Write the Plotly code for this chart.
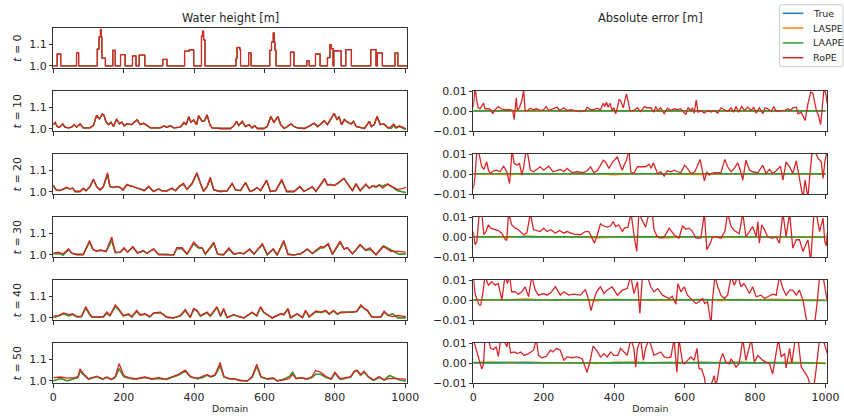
import plotly.graph_objects as go

# ---------------------------------------------------------------- data ----
MODELS = ["True", "LASPE", "LAAPE", "RoPE"]
COLORS = {"True": "#1f77b4", "LASPE": "#ff7f0e", "LAAPE": "#2ca02c", "RoPE": "#d62728"}
TIMES = [0, 10, 20, 30, 40, 50]
X_TICKS = [0, 200, 400, 600, 800, 1000]

# t = 0: piecewise-constant initial water column (breakpoint, level after it)
H0_X = [0, 11, 21, 66, 72, 125, 130, 134, 136, 138, 148, 169, 176, 191, 204, 225, 235,
        244, 260, 311, 323, 373, 386, 399, 421, 424, 427, 431, 519, 522, 530, 532, 555,
        562, 615, 620, 625, 628, 630, 633, 674, 684, 720, 727, 745, 758, 779, 786, 790,
        795, 797, 818, 831, 847, 902, 917, 921, 935, 971, 979, 1005]
H0_Y = [1.0, 1.055, 1.0, 1.06, 1.0, 1.078, 1.134, 1.168, 1.134, 1.036, 1.0, 1.072, 1.0,
        1.052, 1.0, 1.046, 1.0, 1.05, 1.0, 1.03, 1.0, 1.068, 1.074, 1.0, 1.137, 1.16,
        1.12, 1.0, 1.035, 1.085, 1.075, 1.0, 1.06, 1.0, 1.072, 1.11, 1.152, 1.11, 1.072,
        1.0, 1.063, 1.0, 1.023, 1.0, 1.055, 1.0, 1.038, 1.098, 1.08, 1.0, 1.07, 1.0,
        1.075, 1.0, 1.075, 1.0, 1.06, 1.0, 1.06, 1.0, 1.0]

# t = 10
X10 = [0, 5, 11, 17, 27, 33, 43, 52, 59, 66, 76, 85, 104, 114, 123, 131, 139, 144, 150,
       157, 164, 171, 180, 188, 195, 201, 209, 223, 238, 247, 257, 266, 276, 304, 314,
       323, 333, 342, 361, 371, 378, 385, 391, 399, 407, 413, 423, 429, 437, 445, 451,
       475, 504, 513, 521, 527, 537, 546, 556, 565, 572, 580, 598, 608, 618, 627, 638,
       646, 656, 665, 675, 684, 694, 713, 722, 741, 751, 760, 770, 779, 789, 798, 806,
       812, 819, 827, 836, 846, 853, 860, 869, 884, 893, 898, 904, 912, 920, 929, 939,
       945, 952, 960, 967, 974, 983, 993, 1002]
ROPE10 = [1.020, 1.031, 1.011, 1.008, 1.023, 1.008, 1.005, 1.008, 1.020, 1.008,
          1.023, 1.005, 1.005, 1.015, 1.062, 1.046, 1.069, 1.062, 1.031, 1.020,
          1.031, 1.011, 1.046, 1.023, 1.031, 1.014, 1.023, 1.020, 1.042, 1.020,
          1.026, 1.014, 1.005, 1.005, 1.014, 1.008, 1.015, 1.005, 1.008, 1.031,
          1.023, 1.058, 1.031, 1.042, 1.020, 1.062, 1.035, 1.038, 1.066, 1.020,
          1.005, 1.002, 1.002, 1.015, 1.035, 1.015, 1.035, 1.011, 1.020, 1.005,
          1.015, 1.002, 1.002, 1.011, 1.057, 1.031, 1.057, 1.020, 1.002, 1.011,
          1.023, 1.011, 1.005, 1.002, 1.008, 1.026, 1.011, 1.023, 1.038, 1.020,
          1.046, 1.072, 1.042, 1.057, 1.020, 1.043, 1.031, 1.023, 1.035, 1.011,
          1.008, 1.002, 1.023, 1.035, 1.011, 1.020, 1.057, 1.020, 1.023, 1.014,
          1.005, 1.011, 1.023, 1.008, 1.011, 1.008, 1.000]
TRUE10 = [1.020, 1.029, 1.011, 1.008, 1.023, 1.008, 1.005, 1.008, 1.020, 1.008,
          1.023, 1.005, 1.005, 1.015, 1.062, 1.046, 1.069, 1.062, 1.031, 1.020,
          1.031, 1.011, 1.046, 1.023, 1.031, 1.014, 1.023, 1.020, 1.042, 1.020,
          1.026, 1.014, 1.005, 1.005, 1.014, 1.008, 1.015, 1.005, 1.008, 1.026,
          1.020, 1.056, 1.031, 1.040, 1.020, 1.060, 1.035, 1.036, 1.062, 1.020,
          1.005, 1.002, 1.002, 1.015, 1.035, 1.015, 1.035, 1.011, 1.020, 1.005,
          1.015, 1.002, 1.002, 1.011, 1.057, 1.031, 1.057, 1.020, 1.002, 1.011,
          1.023, 1.011, 1.005, 1.002, 1.008, 1.026, 1.011, 1.023, 1.038, 1.020,
          1.046, 1.072, 1.042, 1.057, 1.020, 1.043, 1.031, 1.023, 1.035, 1.011,
          1.008, 1.002, 1.023, 1.035, 1.011, 1.020, 1.057, 1.020, 1.023, 1.012,
          1.003, 1.003, 1.015, 1.004, 1.014, 1.004, 0.998]

# t = 20
X20 = [0, 8, 17, 28, 38, 47, 55, 62, 76, 85, 93, 104, 114, 123, 133, 142, 154, 161, 171,
       180, 190, 198, 209, 218, 228, 237, 247, 258, 271, 280, 285, 299, 309, 323, 337,
       347, 359, 370, 380, 394, 408, 418, 427, 437, 446, 456, 475, 494, 508, 518, 532,
       546, 559, 570, 579, 589, 606, 617, 632, 649, 663, 684, 701, 712, 736, 746, 758,
       771, 779, 788, 798, 809, 826, 841, 850, 860, 872, 888, 898, 907, 917, 926, 936,
       950, 964, 978, 993, 1002]
ROPE20 = [1.025, 1.009, 1.006, 1.012, 1.022, 1.014, 1.017, 1.002, 1.002, 1.017,
          1.006, 1.025, 1.060, 1.025, 1.009, 1.025, 1.089, 1.025, 1.020, 1.025,
          1.020, 1.009, 1.035, 1.028, 1.025, 1.017, 1.014, 1.006, 1.025, 1.009,
          1.002, 1.014, 1.005, 1.005, 1.017, 1.006, 1.028, 1.040, 1.012, 1.040,
          1.089, 1.040, 1.002, 1.025, 1.068, 1.009, 1.002, 1.005, 1.040, 1.009,
          1.006, 1.043, 1.002, 1.009, 1.020, 1.006, 1.055, 1.002, 1.006, 1.058,
          1.002, 1.002, 1.025, 1.002, 1.025, 1.002, 1.032, 1.062, 1.032, 1.035,
          1.029, 1.043, 1.062, 1.025, 1.006, 1.037, 1.006, 1.037, 1.017, 1.028,
          1.025, 1.032, 1.017, 1.035, 1.022, 1.012, 1.015, 1.022]
TRUE20 = [1.032, 1.010, 1.006, 1.012, 1.020, 1.014, 1.017, 1.002, 1.002, 1.015,
          1.006, 1.023, 1.056, 1.025, 1.009, 1.022, 1.080, 1.025, 1.020, 1.025,
          1.020, 1.009, 1.033, 1.028, 1.025, 1.017, 1.014, 1.006, 1.025, 1.009,
          1.002, 1.014, 1.005, 1.005, 1.017, 1.006, 1.026, 1.035, 1.012, 1.036,
          1.085, 1.040, 1.002, 1.025, 1.062, 1.009, 1.002, 1.005, 1.038, 1.009,
          1.006, 1.043, 1.002, 1.009, 1.020, 1.006, 1.052, 1.002, 1.006, 1.052,
          1.002, 1.002, 1.025, 1.002, 1.023, 1.002, 1.030, 1.058, 1.032, 1.035,
          1.029, 1.040, 1.062, 1.025, 1.006, 1.037, 1.006, 1.033, 1.017, 1.028,
          1.022, 1.032, 1.027, 1.037, 1.020, 1.006, 1.000, 0.997]

# t = 30
X30 = [0, 14, 28, 43, 52, 66, 85, 103, 112, 123, 133, 142, 150, 166, 176, 190, 201, 211,
       226, 239, 256, 266, 285, 299, 323, 342, 351, 366, 380, 399, 413, 423, 432, 456,
       467, 484, 499, 513, 530, 541, 558, 570, 594, 608, 625, 636, 655, 667, 684, 703,
       722, 736, 760, 769, 781, 793, 815, 826, 836, 850, 872, 888, 900, 917, 938, 959,
       983, 1002]
ROPE30 = [1.008, 1.013, 1.005, 1.028, 1.008, 1.002, 1.002, 1.067, 1.028, 1.017,
          1.023, 1.020, 1.017, 1.083, 1.013, 1.013, 1.033, 1.013, 1.039, 1.009,
          1.020, 1.008, 1.028, 1.002, 1.002, 1.000, 1.033, 1.033, 1.005, 1.059,
          1.036, 1.033, 1.005, 1.059, 1.005, 1.002, 1.033, 1.005, 1.009, 1.005,
          1.028, 1.005, 1.052, 1.002, 1.028, 1.000, 1.067, 1.000, 1.000, 1.005,
          1.028, 1.008, 1.039, 1.036, 1.052, 1.005, 1.064, 1.028, 1.033, 1.005,
          1.048, 1.023, 1.033, 1.000, 1.039, 1.017, 1.016, 1.013]
TRUE30 = [1.006, 1.006, 1.000, 1.024, 1.008, 1.002, 1.002, 1.060, 1.026, 1.017,
          1.021, 1.020, 1.015, 1.067, 1.011, 1.012, 1.030, 1.013, 1.036, 1.009,
          1.018, 1.008, 1.027, 1.002, 1.002, 1.000, 1.030, 1.028, 1.003, 1.052,
          1.031, 1.031, 1.003, 1.052, 1.002, 1.000, 1.027, 1.003, 1.009, 1.005,
          1.025, 1.004, 1.048, 1.000, 1.026, 1.000, 1.060, 1.004, 1.000, 1.005,
          1.026, 1.006, 1.033, 1.034, 1.050, 1.002, 1.058, 1.027, 1.033, 1.005,
          1.046, 1.020, 1.026, 1.002, 1.042, 1.022, 1.003, 1.005]

# t = 40
X40 = [0, 14, 30, 43, 55, 68, 80, 92, 103, 109, 123, 142, 152, 161, 176, 185, 199, 214,
       223, 237, 247, 261, 274, 285, 304, 323, 342, 361, 375, 389, 399, 408, 418, 437,
       446, 465, 475, 484, 494, 513, 522, 541, 565, 578, 589, 598, 622, 646, 655, 667,
       674, 693, 708, 717, 727, 746, 760, 774, 784, 796, 807, 817, 836, 850, 862, 874,
       883, 893, 904, 917, 931, 940, 952, 964, 978, 1002]
ROPE40 = [1.008, 1.011, 1.023, 1.015, 1.019, 1.006, 1.008, 1.052, 1.020, 1.006,
          1.003, 1.006, 1.027, 1.011, 1.060, 1.044, 1.011, 1.019, 1.006, 1.035,
          1.015, 1.019, 1.006, 1.023, 1.027, 1.003, 1.000, 1.011, 1.039, 1.003,
          1.044, 1.035, 1.011, 1.027, 1.011, 1.052, 1.011, 1.044, 1.003, 1.016,
          1.010, 1.000, 1.027, 1.011, 1.052, 1.027, 1.000, 1.019, 1.015, 1.044,
          1.003, 1.019, 1.003, 1.035, 1.006, 1.032, 1.027, 1.035, 1.019, 1.035,
          1.019, 1.027, 1.027, 1.027, 1.031, 1.060, 1.044, 1.035, 1.006, 1.003,
          1.006, 1.032, 1.011, 1.006, 1.011, 1.006]
TRUE40 = [1.002, 1.008, 1.020, 1.010, 1.016, 1.004, 1.006, 1.046, 1.015, 1.004,
          1.003, 1.004, 1.022, 1.011, 1.052, 1.040, 1.009, 1.016, 1.004, 1.030,
          1.012, 1.017, 1.004, 1.021, 1.025, 1.003, 1.000, 1.009, 1.034, 1.002,
          1.040, 1.033, 1.008, 1.024, 1.008, 1.048, 1.008, 1.040, 1.001, 1.014,
          1.008, 1.000, 1.024, 1.009, 1.048, 1.025, 1.000, 1.018, 1.015, 1.040,
          1.000, 1.018, 1.001, 1.032, 1.004, 1.028, 1.025, 1.031, 1.017, 1.032,
          1.017, 1.025, 1.026, 1.026, 1.029, 1.055, 1.042, 1.032, 1.006, 1.003,
          1.005, 1.027, 1.011, 1.019, 1.000, 1.000]

# t = 50
X50 = [0, 20, 40, 60, 70, 76, 85, 100, 123, 140, 152, 165, 176, 187, 200, 215, 235, 260,
       280, 300, 320, 340, 355, 375, 390, 410, 425, 437, 448, 460, 474, 485, 500, 515,
       530, 551, 565, 578, 590, 608, 625, 636, 655, 670, 680, 690, 703, 722, 735, 745,
       760, 775, 790, 800, 815, 830, 845, 855, 863, 873, 883, 895, 910, 926, 940, 955,
       970, 985, 1002]
ROPE50 = [1.015, 1.018, 1.013, 1.015, 1.020, 1.055, 1.035, 1.010, 1.022, 1.010,
          1.018, 1.008, 1.020, 1.080, 1.025, 1.015, 1.010, 1.018, 1.010, 1.015,
          1.008, 1.020, 1.030, 1.050, 1.020, 1.012, 1.020, 1.030, 1.020, 1.030,
          1.085, 1.020, 1.012, 1.010, 1.003, 1.000, 1.020, 1.077, 1.020, 1.010,
          1.015, 1.000, 1.005, 1.010, 1.030, 1.010, 1.015, 1.010, 1.020, 1.048,
          1.040, 1.020, 1.010, 1.040, 1.010, 1.015, 1.020, 1.045, 1.050, 1.030,
          1.045, 1.020, 1.005, 1.020, 1.005, 1.012, 1.010, 1.008, 1.008]
TRUE50 = [1.000, 1.012, 1.000, 1.010, 1.016, 1.045, 1.030, 1.008, 1.020, 1.008,
          1.016, 1.006, 1.016, 1.056, 1.020, 1.012, 1.008, 1.016, 1.008, 1.012,
          1.006, 1.016, 1.026, 1.045, 1.018, 1.010, 1.016, 1.026, 1.018, 1.026,
          1.070, 1.018, 1.010, 1.008, 1.002, 1.000, 1.016, 1.068, 1.018, 1.008,
          1.012, 1.000, 1.008, 1.020, 1.040, 1.012, 1.014, 1.008, 1.016, 1.030,
          1.030, 1.016, 1.008, 1.036, 1.008, 1.012, 1.018, 1.042, 1.048, 1.026,
          1.042, 1.018, 1.002, 1.016, 1.004, 1.025, 1.014, 1.004, 1.000]

# absolute error of RoPE [mm]
EX10 = [0, 5, 10, 14, 19, 24, 29, 33, 43, 49, 55, 62, 71, 78, 90, 105, 112, 116, 122,
        125, 131, 138, 143, 147, 154, 162, 171, 181, 190, 200, 207, 214, 223, 238, 245,
        257, 266, 276, 290, 304, 318, 323, 333, 342, 352, 361, 369, 373, 378, 383, 388,
        394, 399, 404, 409, 414, 418, 426, 430, 435, 439, 445, 456, 466, 475, 486, 494,
        504, 513, 518, 524, 532, 542, 551, 561, 570, 580, 587, 594, 603, 610, 618, 622,
        627, 633, 638, 646, 656, 665, 675, 684, 694, 703, 713, 722, 732, 739, 746, 753,
        762, 770, 779, 789, 796, 803, 812, 822, 828, 836, 846, 853, 860, 869, 884, 893,
        901, 907, 917, 922, 931, 942, 950, 958, 964, 974, 980, 986, 990, 995, 1000, 1005]
EROPE10 = [2.0, 12.0, 5.0, 1.7, 1.2, 2.3, 4.0, 1.2, 1.2, 0.8, -1.3, 0.7, 2.3, 1.2,
           0.7, 0.7, 0.3, -4.2, 6.7, 0.3, 1.7, 5.3, 10.5, 0.3, 0.3, 1.5, 0.7, 1.2,
           0.3, 0.8, 2.3, 0.3, 0.8, 2.0, 0.3, 1.7, 0.3, 0.7, 0.3, -0.2, 0.3, 2.0,
           0.7, 0.7, 1.5, 0.7, 4.0, 2.3, 4.5, 2.0, 4.0, 0.3, 1.7, -1.3, 1.7, 5.8,
           5.3, 1.7, 5.3, 8.7, 5.3, 0.3, 0.3, 1.7, -0.2, 2.3, 1.7, 1.7, -0.5, 2.3,
           0.3, 1.7, -1.3, 1.5, 0.3, 1.2, 0.7, 1.2, 0.3, -1.7, 1.7, 0.3, 1.7, -1.0,
           5.7, -0.5, 0.3, -1.0, 0.3, -0.5, 0.3, -1.0, 1.7, 0.7, -0.2, 1.7, -0.5,
           2.3, -0.5, 2.3, 0.3, 2.0, 0.3, 2.0, -1.0, 1.7, -1.3, 1.7, 1.2, -0.2, 2.3,
           -0.2, 0.3, 0.3, 1.2, 0.3, 1.7, 2.0, -1.3, -0.5, -4.7, 3.7, 9.5, 9.0, 0.3,
           -2.2, -6.7, 0.3, 10.5, 9.5, 3.7]

EX20 = [0, 5, 10, 17, 24, 30, 38, 43, 48, 57, 67, 76, 86, 95, 103, 106, 110, 116, 124,
        131, 138, 143, 150, 155, 162, 171, 181, 190, 200, 214, 226, 238, 247, 257, 266,
        280, 295, 314, 323, 333, 342, 352, 361, 369, 375, 385, 394, 409, 416, 423, 428,
        435, 442, 447, 456, 466, 489, 499, 505, 511, 523, 532, 542, 551, 561, 570, 580,
        589, 600, 608, 618, 629, 644, 651, 656, 663, 670, 676, 684, 703, 714, 722, 732,
        741, 751, 760, 765, 774, 784, 793, 808, 822, 831, 841, 850, 860, 872, 879, 888,
        898, 907, 917, 929, 936, 942, 950, 955, 961, 969, 979, 988, 993, 998, 1005]
EROPE20 = [-7.2, -1.3, 12.0, 9.6, 3.7, 2.4, 6.2, 2.0, 0.3, 1.7, 2.0, 1.2, 4.0, 1.2,
           -4.7, 3.7, 12.0, 5.4, 4.5, 5.4, -0.5, 3.7, 12.0, 9.6, 2.0, 1.2, 2.4, 3.7,
           2.0, 4.0, 1.2, 2.0, 2.4, 1.2, 2.9, 0.8, 1.2, 0.8, 1.7, 3.7, 0.8, 1.7, 4.5,
           7.0, 6.2, 2.9, 5.7, 8.7, 5.0, 2.0, 4.5, 7.0, 12.0, 1.2, 0.3, 3.7, 3.7, 5.0,
           2.9, 5.7, 0.3, 1.2, -1.0, 1.7, 1.2, 2.0, 1.2, 0.7, 4.5, 2.9, 0.3, 1.2, 7.4,
           2.0, -3.4, 1.2, -0.5, 0.3, 0.8, 0.7, 7.4, 3.7, 1.2, 2.9, 5.7, 0.7, -3.0,
           7.0, 2.0, 1.2, 0.7, 4.5, 0.3, 2.4, 0.3, 1.7, 4.0, -3.0, 6.2, 3.7, 0.3, 6.7,
           -3.9, -12.0, -3.0, -12.0, -1.3, 9.6, 12.0, 7.9, 6.2, -2.2, 6.2, 12.0]

EX30 = [0, 5, 10, 17, 24, 30, 36, 43, 49, 59, 71, 81, 90, 95, 100, 109, 119, 128, 143,
        152, 162, 171, 181, 190, 200, 209, 220, 233, 245, 257, 266, 285, 304, 318, 328,
        334, 344, 352, 361, 369, 380, 390, 397, 404, 413, 423, 429, 439, 448, 456, 464,
        470, 480, 489, 499, 508, 513, 523, 532, 542, 556, 570, 584, 594, 603, 613, 622,
        632, 646, 656, 663, 673, 679, 689, 703, 714, 722, 732, 741, 755, 765, 774, 784,
        793, 803, 808, 812, 819, 827, 836, 850, 860, 869, 879, 888, 898, 907, 917, 926,
        936, 950, 958, 967, 974, 983, 993, 998, 1002, 1005]
EROPE30 = [2.8, -3.8, -2.2, 12.0, 12.0, 1.2, 2.8, 6.2, 4.5, 4.0, 3.3, 2.0, -1.0, -1.7,
           12.0, 6.2, 4.5, 3.7, 1.2, 2.0, 12.0, 3.7, 3.3, 2.8, 4.5, 2.8, 3.7, 2.0, 3.3,
           2.0, 2.8, 1.5, 1.2, 2.8, 2.8, 0.3, -3.0, 1.2, 6.7, 5.7, 5.0, 5.7, 7.8, 5.3,
           6.2, 2.8, 4.5, 5.0, 12.0, 1.2, -7.2, 12.0, 8.7, 5.0, 12.0, 12.0, 3.7, 0.0,
           -0.5, 0.0, 4.5, 1.2, -0.5, 5.7, 4.0, 4.5, 2.8, -0.5, -0.5, 12.0, -6.3, -3.0,
           0.0, 0.3, -0.5, 2.8, 12.0, 5.3, 3.3, 1.7, 12.0, 0.3, 2.8, 5.3, 0.3, 7.8,
           -3.0, 6.2, 3.7, 0.0, -0.5, 0.0, -3.0, 12.0, 0.3, 12.0, -5.5, -1.3, -1.3,
           -7.2, -1.3, -12.0, 12.0, 12.0, 2.8, 9.5, -2.2, -4.3, 2.0]

EX40 = [0, 5, 11, 17, 21, 27, 33, 43, 52, 62, 71, 81, 90, 97, 103, 109, 119, 128, 138,
        147, 157, 166, 176, 185, 200, 209, 220, 233, 247, 257, 271, 285, 304, 318, 328,
        334, 342, 350, 361, 371, 380, 394, 409, 423, 437, 447, 456, 466, 473, 480, 494,
        504, 513, 524, 537, 546, 556, 565, 575, 581, 589, 599, 608, 622, 632, 641, 651,
        657, 665, 675, 679, 686, 694, 703, 713, 722, 732, 741, 751, 760, 768, 774, 784,
        793, 803, 817, 827, 836, 850, 860, 869, 879, 888, 898, 907, 917, 926, 936, 941,
        948, 960, 969, 977, 983, 993, 999, 1005]
EROPE40 = [12.0, 3.3, 0.0, -2.5, -2.5, 3.3, 12.0, 7.5, 9.2, 7.5, 8.3, 0.0, 12.0, 8.3,
           12.0, 4.2, 4.2, 3.0, 4.2, 6.7, 1.7, 12.0, 5.0, 2.5, 3.3, 2.5, 3.7, 6.7, 2.5,
           4.2, 2.5, 3.0, 2.5, 5.3, 0.0, -5.3, 0.0, 4.2, 6.7, 3.3, 5.0, 6.7, 2.5, 5.0,
           5.8, 12.0, 3.3, 9.2, -6.7, 12.0, 12.0, 6.7, 4.2, 5.8, 2.5, 1.7, 0.8, 2.0,
           -2.0, 8.3, 4.2, 6.7, 2.5, 0.0, -1.7, -0.8, 0.8, -1.7, -0.8, -12.0, 0.0,
           12.0, 6.7, 2.5, 0.8, 2.5, 12.0, 7.5, 12.0, 6.7, 8.3, 6.7, 3.3, 6.7, 1.7,
           2.5, 0.8, 1.7, 3.0, 2.5, 12.0, 5.8, 2.5, 5.0, 5.0, 2.5, 5.0, 0.0, -5.0,
           -12.0, -12.0, -12.0, 0.0, 12.0, 12.0, 5.8, -0.8]

EX50 = [0, 10, 17, 24, 29, 33, 43, 49, 57, 65, 71, 78, 86, 95, 100, 106, 116, 125, 135,
        144, 157, 171, 179, 185, 195, 207, 219, 226, 236, 247, 257, 266, 280, 295, 309,
        323, 333, 340, 350, 361, 371, 380, 390, 399, 410, 418, 428, 437, 447, 456, 461,
        466, 475, 483, 489, 499, 513, 524, 532, 542, 551, 561, 570, 578, 584, 594, 599,
        608, 618, 627, 635, 641, 648, 656, 660, 673, 684, 689, 701, 708, 717, 727, 732,
        746, 755, 765, 774, 789, 798, 808, 822, 831, 841, 850, 860, 866, 874, 884, 888,
        898, 904, 914, 922, 931, 941, 950, 958, 967, 974, 983, 993, 999, 1005]
EROPE50 = [12.0, 5.6, 0.5, -2.9, -0.3, 12.0, 12.0, 7.4, 6.8, 8.2, 3.4, 12.0, 12.0, 8.2,
           12.0, 5.1, 5.6, 4.8, 5.6, 3.9, 4.8, 6.5, 12.0, 3.9, 2.7, 3.4, 6.5, 5.6, 7.4,
           6.5, 1.4, 3.1, 2.7, 3.1, 2.2, -4.6, 2.2, 8.5, 6.5, 3.1, 4.8, 3.1, 5.6, 3.9,
           3.9, 7.4, 5.6, 3.9, 12.0, 7.4, -2.0, 7.4, 12.0, 1.4, 7.4, 12.0, 3.9, 4.8,
           5.6, 3.1, 2.7, 3.1, 12.0, -4.6, 12.0, 0.5, -0.3, 1.4, 3.1, 1.4, 7.4, -2.9,
           -2.9, -7.2, -12.0, -12.0, -6.3, -12.0, 1.4, 4.8, 0.5, -0.3, 2.2, -2.0, -0.3,
           12.0, 1.4, 12.0, 0.5, 3.9, 1.4, 0.5, -0.3, -5.5, 4.8, 12.0, 3.1, 4.8, -2.4,
           7.4, -0.3, 12.0, 12.0, -2.0, -4.6, -7.2, -12.0, -12.0, -2.0, 12.0, 12.0, 8.2,
           4.8]

# errors of the reference and of the two linear-attention models [mm]
EX_LIN = [0, 50, 100, 150, 200, 250, 300, 350, 400, 450, 500, 550, 600, 650, 700, 750,
          800, 850, 900, 950, 1000]
ETRUE = [0.0] * 21
ELASPE10 = [0.1, 0.2, 0.1, 0.0, 0.2, 0.1, 0.1, 0.2, 0.3, 0.1, 0.1, 0.2, 0.1, 0.0, 0.1,
            0.2, 0.1, 0.1, 0.1, 0.1, 0.1]
ELAAPE10 = [0.2, 0.3, 0.2, 0.2, 0.3, 0.2, 0.2, 0.3, 0.4, 0.2, 0.2, 0.3, 0.2, 0.2, 0.2,
            0.3, 0.2, 0.2, 0.2, 0.3, 0.2]
ELASPE20 = [0.2, 0.1, -0.2, 0.1, 0.2, 0.0, 0.1, 0.2, -0.4, 0.1, 0.2, 0.0, 0.1, -0.2,
            0.1, 0.2, 0.0, 0.1, 0.2, 0.0, 0.1]
ELAAPE20 = [0.3, 0.2, 0.3, 0.2, 0.3, 0.2, 0.3, 0.2, 0.2, 0.3, 0.2, 0.3, 0.2, 0.3, 0.2,
            0.3, 0.2, 0.3, 0.2, 0.3, 0.2]
ELASPE30 = [0.1, 0.2, -0.2, 0.6, 0.1, 0.0, 0.2, -0.3, 0.1, 0.4, 0.2, -0.3, 0.1, 0.2,
            -0.2, 0.1, 0.2, 0.0, 0.1, 0.2, 0.1]
ELAAPE30 = [0.2, 0.3, 0.1, 0.3, 0.2, 0.3, 0.2, 0.1, 0.3, 0.2, 0.2, 0.3, 0.1, 0.2, 0.3,
            0.2, 0.2, 0.1, 0.2, 0.1, 0.0]
ELASPE40 = [0.2, 0.0, 0.3, 0.6, 0.1, 0.0, 0.2, -0.3, 0.5, 0.1, 0.2, -0.2, 0.3, 0.5,
            -0.3, 0.4, 0.1, 0.5, 0.2, 0.1, 0.0]
ELAAPE40 = [0.2, 0.1, 0.3, 0.2, 0.1, 0.3, 0.2, 0.1, 0.2, 0.3, 0.2, 0.1, 0.2, 0.3, 0.1,
            0.2, 0.1, 0.0, 0.1, -0.1, -0.2]
ELASPE50 = [0.3, 0.6, 0.1, 0.5, 0.2, 0.0, 0.3, -0.2, 0.5, 0.6, 0.2, 0.4, 0.1, 0.5,
            0.3, 0.6, 0.2, 0.4, 0.5, 0.3, 0.2]
ELAAPE50 = [0.4, 0.2, 0.5, 0.3, 0.3, 0.1, 0.3, 0.2, 0.4, 0.3, 0.2, 0.4, 0.3, 0.2, 0.4,
            0.3, 0.2, 0.4, 0.0, 0.3, -0.2]

HEIGHTS = {
    10: (X10, TRUE10, ROPE10),
    20: (X20, TRUE20, ROPE20),
    30: (X30, TRUE30, ROPE30),
    40: (X40, TRUE40, ROPE40),
    50: (X50, TRUE50, ROPE50),
}
ERRORS = {
    10: (EX10, EROPE10, ELASPE10, ELAAPE10),
    20: (EX20, EROPE20, ELASPE20, ELAAPE20),
    30: (EX30, EROPE30, ELASPE30, ELAAPE30),
    40: (EX40, EROPE40, ELASPE40, ELAAPE40),
    50: (EX50, EROPE50, ELASPE50, ELAAPE50),
}

# -------------------------------------------------------------- layout ----
W, H = 844, 419
FONT = "DejaVu Sans"
TEXT = "#262626"
SPINE = "#333333"
LW = 1.3

LEFT_DOM = [53.3 / W, 407.0 / W]
RIGHT_DOM = [473.3 / W, 827.3 / W]


def px_x(v):
    return v / W


def px_y(v):
    return 1 - v / H


def row_domain(i):
    top = 28.0 + 63.0 * i
    return [px_y(top + 40.3), px_y(top)]


fig = go.Figure()
layout = dict(
    width=W, height=H,
    margin=dict(l=0, r=0, t=0, b=0, autoexpand=False),
    paper_bgcolor="white", plot_bgcolor="white",
    font=dict(family=FONT, size=11, color=TEXT),
    showlegend=False,
)


def axis_style():
    return dict(
        showline=True, linecolor=SPINE, linewidth=0.9, mirror=True,
        ticks="outside", ticklen=3.5, tickwidth=0.9, tickcolor=SPINE,
        showgrid=False, zeroline=False, automargin=False,
        tickfont=dict(size=11, family=FONT, color=TEXT),
    )


def add_axes(n, xdom, ydom, bottom):
    xa = axis_style()
    xa.update(domain=xdom, anchor=f"y{n}" if n > 1 else "y", range=[0, 1005],
              tickvals=X_TICKS, showticklabels=bottom)
    if bottom:
        xa["title"] = dict(text="Domain", font=dict(size=9.3, family=FONT, color=TEXT),
                           standoff=2)
    ya = axis_style()
    ya.update(domain=ydom, anchor=f"x{n}" if n > 1 else "x")
    key = "" if n == 1 else str(n)
    layout["xaxis" + key] = xa
    layout["yaxis" + key] = ya
    return ("x" if n == 1 else f"x{n}"), ("y" if n == 1 else f"y{n}")


axis_no = 0
for i, t in enumerate(TIMES):
    bottom = i == len(TIMES) - 1
    # water height panel
    axis_no += 1
    xr, yr = add_axes(axis_no, LEFT_DOM, row_domain(i), bottom)
    key = "" if axis_no == 1 else str(axis_no)
    layout["yaxis" + key].update(
        range=[0.989, 1.175], tickvals=[1.0, 1.1], ticktext=["1.0", "1.1"],
        title=dict(text=f"<i>t</i> = {t}", font=dict(size=11, family=FONT, color=TEXT),
                   standoff=5),
    )
    if t == 0:
        series = {m: (H0_X, H0_Y) for m in MODELS}
        shape = "hv"
    else:
        xs, ref, rope = HEIGHTS[t]
        series = {"True": (xs, ref), "LASPE": (xs, ref), "LAAPE": (xs, ref),
                  "RoPE": (xs, rope)}
        shape = "linear"
    for m in MODELS:
        xs, ys = series[m]
        # at t = 0 every model starts from the same state: keep the lower
        # lines a touch thinner so the top one covers them cleanly
        width = LW if (m == "RoPE" or t != 0) else 0.9
        fig.add_trace(go.Scatter(
            x=xs, y=ys, mode="lines", name=m, legendgroup=m,
            line=dict(color=COLORS[m], width=width, shape=shape),
            xaxis=xr, yaxis=yr, hoverinfo="skip",
        ))

    # absolute error panel
    if t == 0:
        continue
    axis_no += 1
    xr, yr = add_axes(axis_no, RIGHT_DOM, row_domain(i), bottom)
    key = str(axis_no)
    layout["yaxis" + key].update(
        range=[-0.0101, 0.0101], tickvals=[-0.01, 0.0, 0.01],
        ticktext=["\u22120.01", "0.00", "0.01"],
    )
    ex, erope, elaspe, elaape = ERRORS[t]
    err = {
        "True": (EX_LIN, ETRUE),
        "LASPE": (EX_LIN, elaspe),
        "LAAPE": (EX_LIN, elaape),
        "RoPE": (ex, erope),
    }
    for m in MODELS:
        xs, mm = err[m]
        fig.add_trace(go.Scatter(
            x=xs, y=[v / 1000.0 for v in mm], mode="lines", name=m, legendgroup=m,
            line=dict(color=COLORS[m], width=LW),
            xaxis=xr, yaxis=yr, hoverinfo="skip",
        ))

# column titles
annotations = [
    dict(text="Water height [m]", x=sum(LEFT_DOM) / 2, y=px_y(18.3),
         xref="paper", yref="paper", showarrow=False, xanchor="center", yanchor="middle",
         font=dict(size=11.4, family=FONT, color=TEXT)),
    dict(text="Absolute error [m]", x=sum(RIGHT_DOM) / 2, y=px_y(18.3),
         xref="paper", yref="paper", showarrow=False, xanchor="center", yanchor="middle",
         font=dict(size=11.4, family=FONT, color=TEXT)),
]

# legend box in the upper-right corner, one row per model
LEG_L, LEG_R, LEG_T, LEG_B, RAD = 779.5, 843.0, 4.7, 66.7, 2.5
rx, ry = RAD / W, RAD / H
l, r, tp, bt = px_x(LEG_L), px_x(LEG_R), px_y(LEG_T), px_y(LEG_B)
box_path = (f"M {l + rx},{tp} L {r - rx},{tp} Q {r},{tp} {r},{tp - ry} "
            f"L {r},{bt + ry} Q {r},{bt} {r - rx},{bt} L {l + rx},{bt} "
            f"Q {l},{bt} {l},{bt + ry} L {l},{tp - ry} Q {l},{tp} {l + rx},{tp} Z")
shapes = [dict(type="path", path=box_path, xref="paper", yref="paper",
               line=dict(color="#cccccc", width=1), fillcolor="rgba(255,255,255,0.8)",
               layer="above")]
for k, m in enumerate(MODELS):
    yc = px_y(13.3 + 14.8 * k)
    shapes.append(dict(type="line", xref="paper", yref="paper",
                       x0=px_x(782.7), x1=px_x(803.3), y0=yc, y1=yc,
                       line=dict(color=COLORS[m], width=1.5), layer="above"))
    annotations.append(dict(text=m, x=px_x(811.0), y=yc, xref="paper", yref="paper",
                            showarrow=False, xanchor="left", yanchor="middle",
                            font=dict(size=9.5, family=FONT, color=TEXT)))

layout["annotations"] = annotations
layout["shapes"] = shapes
fig.update_layout(**layout)
fig.write_html("out.html")
